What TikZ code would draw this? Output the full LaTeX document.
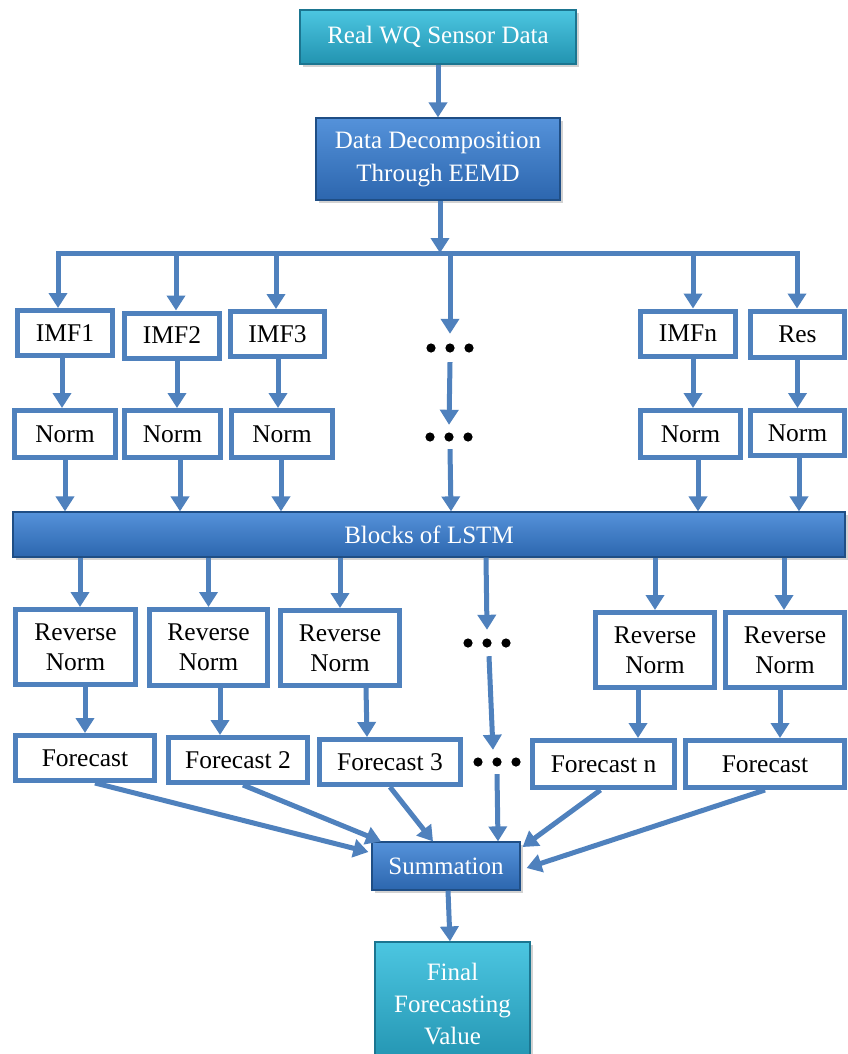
\documentclass[tikz,border=0pt]{standalone}
\usepackage{fontspec}
\setmainfont{Liberation Serif}
\usetikzlibrary{arrows.meta,shadows,calc}
\definecolor{linkblue}{HTML}{4F81BD}
\definecolor{bluetop}{HTML}{5592DA}
\definecolor{bluebot}{HTML}{2C66AE}
\definecolor{blueedge}{HTML}{1F4E85}
\definecolor{cyantop}{HTML}{4CC6E1}
\definecolor{cyanbot}{HTML}{2293B0}
\definecolor{cyanedge}{HTML}{1B7590}
\tikzset{
  arr/.style={draw=linkblue, line width=5pt, line join=miter, -{Triangle[length=15pt,width=18pt]}},
  wbox/.style={draw=linkblue, line width=5pt, fill=white, inner sep=0pt, align=center,
    font=\fontsize{25.5}{30}\selectfont,
    drop shadow={opacity=0.2, shadow xshift=2pt, shadow yshift=-2pt}},
  bbox/.style={top color=bluetop, bottom color=bluebot, draw=blueedge, line width=1.2pt,
    text=white, inner sep=0pt, align=center, font=\fontsize{25}{33}\selectfont,
    drop shadow={opacity=0.35, shadow xshift=3pt, shadow yshift=-3pt}},
  cbox/.style={top color=cyantop, bottom color=cyanbot, draw=cyanedge, line width=1.2pt,
    text=white, inner sep=0pt, align=center, font=\fontsize{25}{32}\selectfont,
    drop shadow={opacity=0.35, shadow xshift=3pt, shadow yshift=-3pt}},
  dotsnode/.style={minimum width=56pt, inner sep=0pt},
}
\begin{document}
\begin{tikzpicture}[x=1pt, y=-1pt]
\clip (0,0) rectangle (848,1054);
\fill[white] (0,0) rectangle (848,1054);

% top
\node[cbox, minimum width=276, minimum height=54] (src) at (438,37) {Real WQ Sensor Data};
\node[bbox, minimum width=244, minimum height=82] (dec) at (438,159) {Data Decomposition\\Through EEMD};

% IMF row
\node[wbox, minimum width=95, minimum height=45] (imf1) at (65,333) {IMF1};
\node[wbox, minimum width=95, minimum height=45] (imf2) at (172,335.5) {IMF2};
\node[wbox, minimum width=94, minimum height=45] (imf3) at (277.5,334) {IMF3};
\node[wbox, minimum width=95, minimum height=45] (imfn) at (688,333.5) {IMFn};
\node[wbox, minimum width=94, minimum height=46] (res) at (797.5,334) {Res};

% Norm row
\node[wbox, minimum width=101, minimum height=47] (n1) at (65,434) {Norm};
\node[wbox, minimum width=96, minimum height=47] (n2) at (172.5,434) {Norm};
\node[wbox, minimum width=101, minimum height=47] (n3) at (282,434) {Norm};
\node[wbox, minimum width=100, minimum height=47] (nn) at (690.5,434) {Norm};
\node[wbox, minimum width=94, minimum height=45] (nr) at (797.5,433) {Norm};

% LSTM
\node[bbox, minimum width=832, minimum height=45] (lstm) at (429,534.5) {Blocks of LSTM};

% Reverse Norm row
\node[wbox, minimum width=120, minimum height=75] (rn1) at (75.5,647) {Reverse\\Norm};
\node[wbox, minimum width=118, minimum height=76] (rn2) at (208.5,647.5) {Reverse\\Norm};
\node[wbox, minimum width=119, minimum height=75] (rn3) at (340,648) {Reverse\\Norm};
\node[wbox, minimum width=119, minimum height=75] (rnn) at (655,650) {Reverse\\Norm};
\node[wbox, minimum width=119, minimum height=75] (rnr) at (785,650) {Reverse\\Norm};

% Forecast row
\node[wbox, minimum width=139, minimum height=45] (f1) at (85,758) {Forecast};
\node[wbox, minimum width=139, minimum height=45] (f2) at (238,760) {Forecast 2};
\node[wbox, minimum width=141, minimum height=45] (f3) at (390,762) {Forecast 3};
\node[wbox, minimum width=142, minimum height=47] (fn) at (603.5,764) {Forecast n};
\node[wbox, minimum width=159, minimum height=47] (fr) at (765,764) {Forecast};

% bottom
\node[bbox, minimum width=148, minimum height=48] (sum) at (446,866) {Summation};
\node[cbox, minimum width=155, minimum height=124] (final) at (452.5,1004) {Final\\Forecasting\\Value};

% dots
\node[dotsnode, minimum height=28] (d1) at (450,348) {};
\node[dotsnode, minimum height=24] (d2) at (449,437) {};
\node[dotsnode, minimum height=26] (d3) at (487,643) {};
\node[dotsnode, minimum height=24] (d4) at (497,762) {};
\foreach \n in {d1,d2,d3,d4}{
  \fill (\n) ++(-19,0) circle[radius=4.6pt];
  \fill (\n) circle[radius=4.6pt];
  \fill (\n) ++(19,0) circle[radius=4.6pt];
}

% connectors top
\draw[arr] (src.south) -- (dec.north);
\coordinate (bus) at (440,253);
\coordinate (b1) at (58,253);
\coordinate (b2) at (176,253);
\coordinate (b3) at (276,253);
\coordinate (b4) at (450,253);
\coordinate (b5) at (693,253);
\coordinate (b6) at (797,253);
\draw[arr] (dec.south -| bus) -- (bus);
\draw[arr] (b4) -- (b1) -- (b1 |- imf1.north);
\draw[arr] (b4) -- (b6) -- (b6 |- res.north);
\draw[arr] (b2) -- (b2 |- imf2.north);
\draw[arr] (b3) -- (b3 |- imf3.north);
\draw[arr] (b4) -- (d1.north);
\draw[arr] (b5) -- (b5 |- imfn.north);

% IMF -> Norm
\draw[arr] ($(imf1.south)+(-3,0)$) -- ($(n1.north)+(-3,0)$);
\draw[arr] ($(imf2.south)+(5,0)$) -- ($(n2.north)+(4.5,0)$);
\draw[arr] ($(imf3.south)+(0.5,0)$) -- ($(n3.north)+(-4,0)$);
\draw[arr] (d1.south) -- (d2.north);
\draw[arr] ($(imfn.south)+(5,0)$) -- ($(nn.north)+(2.5,0)$);
\draw[arr] (res.south) -- (nr.north);

% Norm -> LSTM
\draw[arr] (n1.south) -- (n1.south |- lstm.north);
\draw[arr] ($(n2.south)+(7.5,0)$) -- ($(n2.south |- lstm.north)+(7.5,0)$);
\draw[arr] ($(n3.south)+(-1,0)$) -- ($(n3.south |- lstm.north)+(-1,0)$);
\draw[arr] ($(d2.south)+(1,0)$) -- ($(d2.south |- lstm.north)+(2,0)$);
\draw[arr] ($(nn.south)+(7.5,0)$) -- ($(nn.south |- lstm.north)+(7.5,0)$);
\draw[arr] ($(nr.south)+(1.5,0)$) -- ($(nr.south |- lstm.north)+(1.5,0)$);

% LSTM -> Reverse Norm
\draw[arr] ($(lstm.south -| rn1.north)+(4.5,0)$) -- ($(rn1.north)+(4.5,0)$);
\draw[arr] (lstm.south -| rn2.north) -- (rn2.north);
\draw[arr] (lstm.south -| rn3.north) -- (rn3.north);
\draw[arr] ($(lstm.south -| d3.north)+(-1,0)$) -- ($(d3.north)+(0,0)$);
\draw[arr] (lstm.south -| rnn.north) -- (rnn.north);
\draw[arr] ($(lstm.south -| rnr.north)+(-1,0)$) -- ($(rnr.north)+(-1,0)$);

% Reverse Norm -> Forecast
\draw[arr] ($(rn1.south)+(9.5,0)$) -- (f1.north);
\draw[arr] ($(rn2.south)+(11.5,0)$) -- ($(f2.north)+(-18,0)$);
\draw[arr] ($(rn3.south)+(26,0)$) -- ($(f3.north)+(-23,0)$);
\draw[arr] ($(d3.south)+(2,0)$) -- ($(d4.north)+(-4,0)$);
\draw[arr] ($(rnn.south)+(-17,0)$) -- ($(fn.north)+(34.5,0)$);
\draw[arr] ($(rnr.south)+(-5,0)$) -- ($(fr.north)+(15,0)$);

% Forecast -> Summation
\draw[arr] ($(f1.south)+(10,0)$) -- ($(sum.west)+(-3,-14)$);
\draw[arr] ($(f2.south)+(5,0)$) -- ($(sum.north)+(-65,0)$);
\draw[arr] (f3.south) -- ($(sum.north)+(-13,0)$);
\draw[arr] (d4.south) -- ($(sum.north)+(52,0)$);
\draw[arr] ($(fn.south)+(-3,0)$) -- ($(sum.east)+(2,-19)$);
\draw[arr] (fr.south) -- ($(sum.east)+(6,2)$);

% Summation -> Final
\draw[arr] ($(sum.south)+(2,0)$) -- ($(final.north)+(-2.5,0)$);
\end{tikzpicture}
\end{document}
